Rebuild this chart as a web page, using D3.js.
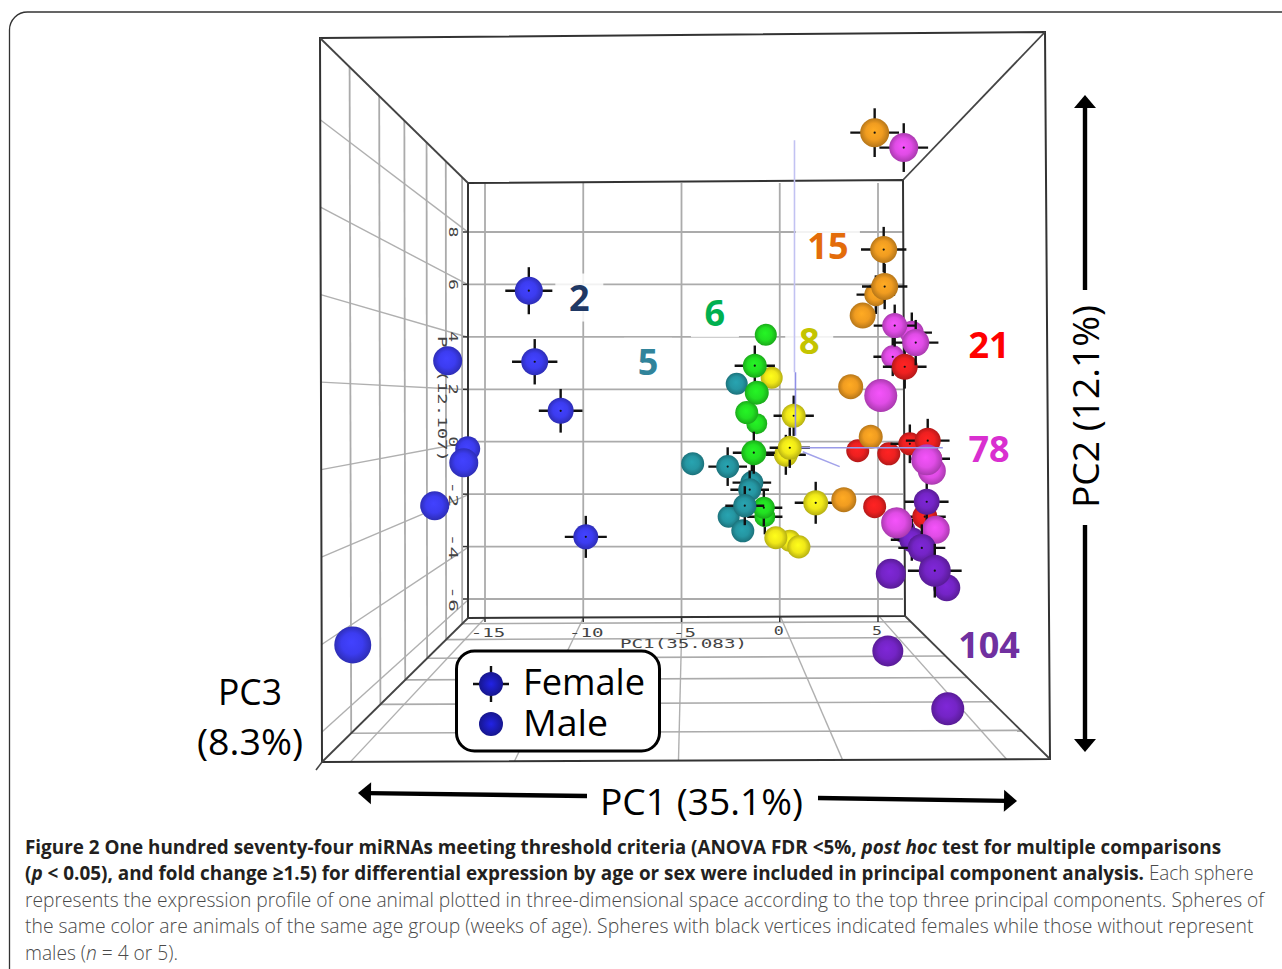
<!DOCTYPE html>
<html>
<head>
<meta charset="utf-8">
<script src="https://cdn.jsdelivr.net/npm/d3@7"></script>
<style>
  html, body { margin: 0; padding: 0; background: #fff; overflow: hidden; }
  svg { display: block; }
</style>
</head>
<body>
<script>
// [PC1, PC2, PC3, sex]
const age2 = [
  [-12.77, 5.76, -1.5, "F"], [-12.47, 3.05, -2, "F"], [-11.15, 1.18, -2.5, "F"],
  [-16.90, 3.09, -1, "M"], [-15.88, -0.27, -3, "M"], [-16.08, -0.80, -1, "M"],
  [-17.56, -2.44, -1, "M"], [-9.87, -3.63, -3, "F"], [-21.73, -7.75, 3, "M"]
];
const age5 = [
  [-2.19, 2.21, -4.5, "M"], [-4.43, -0.84, -4, "M"], [-2.65, -0.95, -4, "F"],
  [-1.42, -1.56, -4, "F"], [-1.53, -1.83, -4, "F"], [-1.78, -2.44, -3.9, "F"],
  [-2.60, -2.86, -4.5, "M"], [-1.88, -3.40, -4, "M"]
];
const age6 = [
  [-0.71, 4.08, -4.5, "M"], [-1.27, 2.90, -3.5, "F"], [-1.17, 1.87, -3.5, "M"],
  [-1.17, 0.69, -5, "M"], [-1.68, 1.11, -4, "M"], [-1.32, -0.42, -3, "F"],
  [-0.81, -2.52, -4.5, "F"], [-0.76, -2.86, -5, "F"]
];
const age8 = [
  [-0.41, 2.44, -4.5, "M"], [0.71, 0.99, -3.5, "F"], [0.51, -0.23, -3.5, "F"],
  [0.31, -0.50, -3.6, "F"], [1.83, -2.33, -3, "F"], [-0.20, -3.66, -4, "M"],
  [0.51, -3.78, -4.5, "M"], [0.97, -4.01, -3.9, "M"]
];
const age15 = [
  [4.83, 11.79, -1, "F"], [5.29, 7.33, -2, "F"], [5.34, 5.92, -2, "F"],
  [4.89, 5.61, -4, "F"], [4.22, 4.81, -2.5, "M"], [3.61, 2.10, -3, "M"],
  [4.63, 0.19, -3.5, "M"], [3.26, -2.21, -3, "M"]
];
const age21 = [
  [6.36, 2.86, -2.5, "F"], [3.97, -0.34, -4, "M"], [5.55, -0.46, -4, "M"],
  [6.62, -0.08, -4, "F"], [7.53, 0.04, -2.5, "F"], [7.68, -0.65, -4, "F"],
  [4.83, -2.48, -4, "M"], [7.38, -2.86, -3, "F"]
];
const age78 = [
  [6.31, 11.22, -1, "F"], [5.85, 4.43, -3, "F"], [6.72, 4.16, -3.5, "F"],
  [6.92, 3.78, -2, "F"], [5.75, 3.24, -4, "F"], [5.14, 1.76, 1, "M"],
  [7.48, -0.69, 0, "M"], [7.74, -1.11, -1.5, "M"], [5.95, -3.09, 0, "M"],
  [7.94, -3.36, -1.5, "M"]
];
const age104 = [
  [7.48, -2.29, -2.5, "F"], [5.65, -5.04, -0.5, "M"], [7.23, -4.05, -1.5, "F"],
  [7.89, -4.92, 0.5, "F"], [8.50, -5.57, -2, "M"], [6.26, -3.36, -3, "M"],
  [6.72, -3.74, -3, "F"], [5.50, -7.98, 0, "M"], [8.55, -10.19, 1, "M"]
];
const ageGroups = [age2, age5, age6, age8, age15, age21, age78, age104];
const ageLabels = ["2", "5", "6", "8", "15", "21", "78", "104"];
const sphereColors = ["#3c3cf0", "#2596a2", "#22e022", "#f0e818", "#f09c20", "#ee2020", "#e04ce6", "#7424c6"];
const labelColors = ["#1f3864", "#31849b", "#00b050", "#c4c400", "#e36c0a", "#ff0000", "#d92fd0", "#7030a0"];

const pc1Ticks = [-15, -10, -5, 0, 5];
const pc2Ticks = [8, 6, 4, 2, 0, -2, -4, -6];
const pc3Ticks = [6, 5, 4, 3, 2, 1];

const width = 1282, height = 969;
const svg = d3.select("body").append("svg").attr("width", width).attr("height", height);
const defs = svg.append("defs");

// back wall scales, px per unit
const x = d3.scaleLinear().domain([-15, 5]).range([485, 878]);
const y = d3.scaleLinear().domain([-6, 8]).range([599, 232]);
const radius = d3.scaleLinear().domain([-5, 3]).range([10.5, 18.5]);
const wallDepth = d3.scaleLinear().domain(pc3Ticks).range([0.2, 0.4, 0.57, 0.72, 0.85, 0.96]);

const front = {tl: [320, 38], tr: [1045, 32], bl: [322, 762], br: [1050, 759]};
const back = {tl: [468, 183], tr: [903, 180], bl: [468, 618], br: [905, 616]};
const u = d3.scaleLinear().domain([468, 904]).range([0, 1]);
const v = d3.scaleLinear().domain([183, 617]).range([0, 1]);

function lerp(a, b, t) { return [a[0] + (b[0] - a[0]) * t, a[1] + (b[1] - a[1]) * t]; }
function face(f, a, b) { return lerp(lerp(f.tl, f.tr, a), lerp(f.bl, f.br, a), b); }
// a, b across the box, s = 0 at the front opening and 1 at the back wall
function project(a, b, s) { return lerp(face(front, a, b), face(back, a, b), s); }

function line(g, p, q, color, w) {
  return g.append("line")
    .attr("x1", p[0]).attr("y1", p[1]).attr("x2", q[0]).attr("y2", q[1])
    .attr("stroke", color).attr("stroke-width", w);
}

// page frame, only top and left show
svg.append("rect")
  .attr("x", 9.5).attr("y", 12).attr("width", 1500).attr("height", 1200).attr("rx", 18)
  .attr("fill", "none").attr("stroke", "#333").attr("stroke-width", 1.3);

// grid
const grid = svg.append("g");
const gridColor = "#ababab";
pc1Ticks.forEach(t => {
  line(grid, [x(t), 183], [x(t), 617], gridColor, 1.8);
  line(grid, project(u(x(t)), 1, 1), project(u(x(t)), 1, 0), "#b0b0b0", 1.4);
});
pc2Ticks.forEach(t => {
  line(grid, [468, y(t)], [903, y(t)], gridColor, 1.8);
  line(grid, project(0, v(y(t)), 1), project(0, v(y(t)), 0), "#b0b0b0", 1.4);
});
pc3Ticks.forEach(t => {
  const s = wallDepth(t);
  line(grid, project(0, 0, s), project(0, 1, s), gridColor, 1.8);
  line(grid, project(0, 1, s), project(1, 1, s), gridColor, 1.6);
});

// box
const box = svg.append("g").attr("fill", "none").attr("stroke", "#333").attr("stroke-width", 2);
box.append("path").attr("d", d3.line()([front.tl, front.tr, front.br, front.bl]) + "Z");
box.append("path").attr("d", d3.line()([back.tl, back.tr, back.br, back.bl]) + "Z");
["tl", "tr", "br", "bl"].forEach(c => line(box, front[c], back[c], "#444", 1.8));
line(box, front.bl, [316, 770], "#444", 1.5);

// axis ticks and the squashed labels of the plotting program
const axisText = svg.append("g")
  .attr("font-family", "'DejaVu Sans Mono'").attr("font-size", 13).attr("fill", "#444");
pc1Ticks.forEach(t => {
  line(svg, [x(t), 617], [x(t), 622], "#333", 1.5);
  axisText.append("text")
    .attr("x", x(t) + (t < 0 ? 3 : -1)).attr("y", t < 0 ? 637 : 635)
    .attr("text-anchor", "middle")
    .attr("textLength", t < 0 ? String(t).length * 11.5 : 10).attr("lengthAdjust", "spacingAndGlyphs")
    .text(t);
});
axisText.append("text")
  .attr("x", 620).attr("y", 648)
  .attr("textLength", 127).attr("lengthAdjust", "spacingAndGlyphs")
  .text("PC1(35.083)");
pc2Ticks.forEach(t => {
  line(svg, [468, y(t)], [463, y(t)], "#333", 1.5);
  axisText.append("text")
    .attr("transform", `translate(449,${y(t)}) rotate(90)`)
    .attr("text-anchor", "middle")
    .attr("textLength", t < 0 ? 26 : 11).attr("lengthAdjust", "spacingAndGlyphs")
    .text(t);
});
axisText.append("text")
  .attr("transform", "translate(438,336) rotate(90)")
  .attr("textLength", 126).attr("lengthAdjust", "spacingAndGlyphs")
  .text("PC2(12.107)");

// the age numbers were pasted in with a white box that washes out the grid
const ageLabelAt = {"2": [-10.2, 5.5], "5": [-6.7, 3.05], "6": [-3.3, 4.9], "8": [1.5, 3.85], "15": [2.45, 7.45], "21": [10.65, 3.7], "78": [10.65, -0.26], "104": [10.65, -7.75]};
const patches = svg.append("g").attr("fill", "#fff").attr("opacity", 0.85);
ageLabels.slice(0, 5).forEach(k => {
  const p = ageLabelAt[k];
  const w = k.length > 1 ? 64 : 48;
  patches.append("rect")
    .attr("x", x(p[0]) - w / 2).attr("y", y(p[1]) - 24).attr("width", w).attr("height", 48);
});

// spheres
ageGroups.forEach((group, i) => {
  const c = d3.color(sphereColors[i]);
  const grad = defs.append("radialGradient").attr("id", "sphere-" + i)
    .attr("cx", "50%").attr("cy", "50%").attr("r", "52%").attr("fx", "46%").attr("fy", "42%");
  grad.append("stop").attr("offset", "0%").attr("stop-color", c.brighter(0.25));
  grad.append("stop").attr("offset", "55%").attr("stop-color", c);
  grad.append("stop").attr("offset", "100%").attr("stop-color", c.darker(0.85));
});
const spheres = ageGroups
  .flatMap((group, i) => group.map(d => ({pc1: d[0], pc2: d[1], pc3: d[2], sex: d[3], group: i})))
  .sort((a, b) => d3.ascending(a.pc3, b.pc3));

function drawSphere(g, cx, cy, r, fill, female, armScale) {
  if (female) {
    const arm = r * armScale;
    line(g, [cx - arm, cy], [cx + arm, cy], "#111", 2.4);
    line(g, [cx, cy - arm], [cx, cy + arm], "#111", 2.4);
  }
  g.append("circle").attr("cx", cx).attr("cy", cy).attr("r", r).attr("fill", fill);
  if (female && armScale > 1.6) g.append("circle").attr("cx", cx).attr("cy", cy).attr("r", 1.1).attr("fill", "#111");
}
const sphereLayer = svg.append("g");
spheres.forEach(d => {
  drawSphere(sphereLayer, x(d.pc1), y(d.pc2), radius(d.pc3), `url(#sphere-${d.group})`, d.sex === "F", 1.68);
});

// PC axes of the plotting program
const axisLines = svg.append("g");
line(axisLines, [x(0.75), y(11.5)], [x(0.75), y(2.65)], "#c2c2f2", 1.6);
line(axisLines, [x(0.8), y(2.65)], [x(0.8), y(0.23)], "#8f8fe6", 1.6);
line(axisLines, [x(1.1), y(-0.23)], [x(8.3), y(-0.23)], "#9a9ae8", 1.6);
line(axisLines, [x(1.17), y(-0.38)], [x(3.05), y(-0.95)], "#a2a2ea", 1.6);

// age labels
const labels = svg.append("g")
  .attr("font-family", "'Open Sans'").attr("font-weight", 700).attr("font-size", 36)
  .attr("text-anchor", "middle");
ageLabels.forEach((k, i) => {
  const p = ageLabelAt[k];
  labels.append("text")
    .attr("x", x(p[0])).attr("y", y(p[1]) + 13)
    .attr("fill", labelColors[i])
    .text(k);
});

// legend
const legend = svg.append("g");
legend.append("rect")
  .attr("x", 456.5).attr("y", 651).attr("width", 203).attr("height", 100).attr("rx", 18)
  .attr("fill", "#fff").attr("stroke", "#000").attr("stroke-width", 3);
const legendFill = defs.append("radialGradient").attr("id", "legend-sphere");
legendFill.append("stop").attr("offset", "0%").attr("stop-color", "#2222e6");
legendFill.append("stop").attr("offset", "100%").attr("stop-color", "#16168e");
drawSphere(legend, 491, 684, 12, "url(#legend-sphere)", true, 1.5);
drawSphere(legend, 491, 724, 12, "url(#legend-sphere)", false, 1.5);

const bigText = svg.append("g")
  .attr("font-family", "'Open Sans'").attr("font-size", 36).attr("fill", "#000");
[["Female", 523, 695, 122], ["Male", 523, 736, 85]].forEach(t => {
  bigText.append("text").attr("x", t[1]).attr("y", t[2])
    .attr("textLength", t[3]).attr("lengthAdjust", "spacingAndGlyphs").text(t[0]);
});
bigText.append("text").attr("x", 600).attr("y", 815)
  .attr("textLength", 203).attr("lengthAdjust", "spacingAndGlyphs").text("PC1 (35.1%)");
bigText.append("text").attr("transform", "translate(1099,508) rotate(-90)")
  .attr("textLength", 203).attr("lengthAdjust", "spacingAndGlyphs").text("PC2 (12.1%)");
bigText.append("text").attr("x", 218).attr("y", 705)
  .attr("textLength", 64).attr("lengthAdjust", "spacingAndGlyphs").text("PC3");
bigText.append("text").attr("x", 197).attr("y", 755)
  .attr("textLength", 106).attr("lengthAdjust", "spacingAndGlyphs").text("(8.3%)");

// big arrows
function arrow(from, to) {
  const a = Math.atan2(to[1] - from[1], to[0] - from[0]);
  const g = svg.append("g").attr("transform", `translate(${to[0]},${to[1]}) rotate(${a * 180 / Math.PI})`);
  const len = Math.hypot(to[0] - from[0], to[1] - from[1]);
  g.append("rect").attr("x", -len).attr("y", -2.2).attr("width", len - 10).attr("height", 4.4).attr("fill", "#000");
  g.append("path").attr("d", "M0,0L-13,-11L-13,11Z").attr("fill", "#000");
}
arrow([587, 796], [358, 793]);
arrow([818, 798], [1017, 801]);
arrow([1085, 290], [1085, 95]);
arrow([1085, 525], [1085, 752]);

// caption, each line is stretched to its measured width
const captionLines = [
  {end: 1222, base: 854, runs: [["Figure 2 One hundred seventy-four miRNAs meeting threshold criteria (ANOVA FDR <5%, ", "b"], ["post hoc", "bi"], [" test for multiple comparisons", "b"]]},
  {end: 1255, base: 880, runs: [["(", "b"], ["p", "bi"], [" < 0.05), and fold change \u22651.5) for differential expression by age or sex were included in principal component analysis.", "b"], [" Each sphere", "r"]]},
  {end: 1265, base: 907, runs: [["represents the expression profile of one animal plotted in three-dimensional space according to the top three principal components. Spheres of", "r"]]},
  {end: 1254, base: 933, runs: [["the same color are animals of the same age group (weeks of age). Spheres with black vertices indicated females while those without represent", "r"]]},
  {end: 178, base: 960, runs: [["males (", "r"], ["n", "ri"], [" = 4 or 5).", "r"]]}
];
captionLines.forEach(l => {
  const t = svg.append("text")
    .attr("font-family", "'Open Sans'").attr("font-size", 20).attr("xml:space", "preserve")
    .style("white-space", "pre");
  l.runs.forEach(r => {
    t.append("tspan").text(r[0])
      .attr("font-weight", r[1][0] === "b" ? 700 : 300)
      .attr("font-style", r[1][1] === "i" ? "italic" : "normal")
      .attr("fill", r[1][0] === "b" ? "#231f20" : "#4a4a4a");
  });
  const natural = t.node().getComputedTextLength();
  t.attr("transform", `translate(25,${l.base}) scale(${(l.end - 25) / natural},1)`);
});
</script>
</body>
</html>
